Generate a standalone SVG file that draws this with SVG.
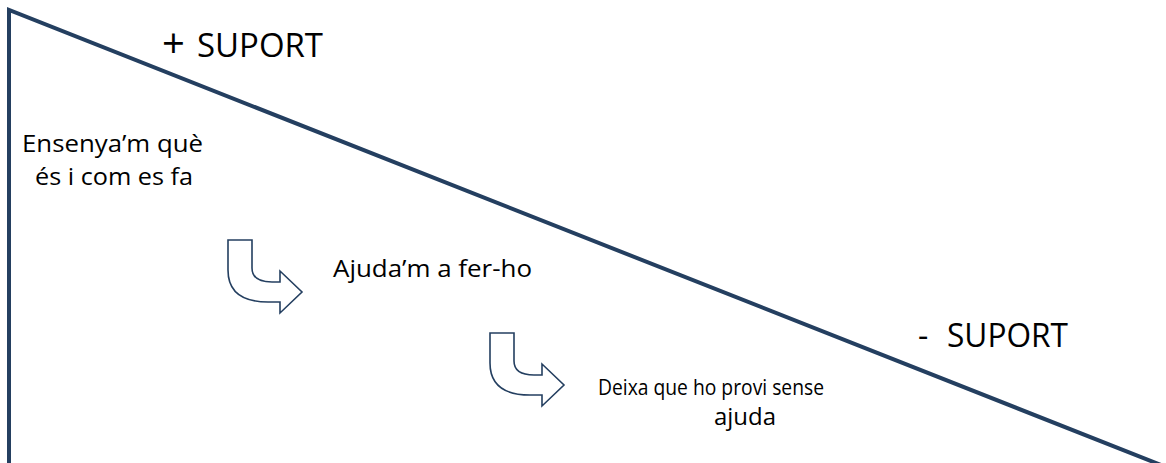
<svg xmlns="http://www.w3.org/2000/svg" width="1166" height="463" viewBox="0 0 1166 463">
<style>
.ax{fill:none;stroke:#243F60;stroke-width:4;stroke-linejoin:miter}
.arr{fill:#fff;stroke:#243F60;stroke-width:1.6;stroke-linejoin:miter}
.t{font-family:"Open Sans","Liberation Sans",sans-serif;fill:#000}
.big{font-size:32px}
.sm{font-size:23px}
.sm2{font-size:21px}
</style>
<defs>
<path id="uarrow" d="M0,0 L24,0 L24,28 Q24,42 44,42 L52,42 L52,31 L74,52 L52,73 L52,62 L40,62 Q0,62 0,30 Z"/>
</defs>
<g id="axes">
<path class="ax" d="M9,463 L9,10 L1161,465"/>
</g>
<g id="label-plus"><text class="t big" x="162" y="58"><tspan font-size="40">+</tspan><tspan x="197" y="57" textLength="126" lengthAdjust="spacingAndGlyphs">SUPORT</tspan></text></g>
<g id="label-minus"><text class="t big" x="918" y="347">-<tspan x="947" textLength="121" lengthAdjust="spacingAndGlyphs">SUPORT</tspan></text></g>
<g id="step1">
<text class="t sm" x="22" y="152" textLength="181" lengthAdjust="spacingAndGlyphs">Ensenya’m què</text>
<text class="t sm" x="35" y="185" textLength="158" lengthAdjust="spacingAndGlyphs">és i com es fa</text>
</g>
<g id="step2">
<text class="t sm" x="333" y="277" textLength="199" lengthAdjust="spacingAndGlyphs">Ajuda’m a fer-ho</text>
</g>
<g id="step3">
<text class="t sm2" x="598" y="395" textLength="226" lengthAdjust="spacingAndGlyphs">Deixa que ho provi sense</text>
<text class="t sm" x="714" y="425" textLength="62" lengthAdjust="spacingAndGlyphs">ajuda</text>
</g>
<g id="connectors">
<use href="#uarrow" class="arr" x="228" y="240"/>
<use href="#uarrow" class="arr" x="490" y="333"/>
</g>
</svg>
